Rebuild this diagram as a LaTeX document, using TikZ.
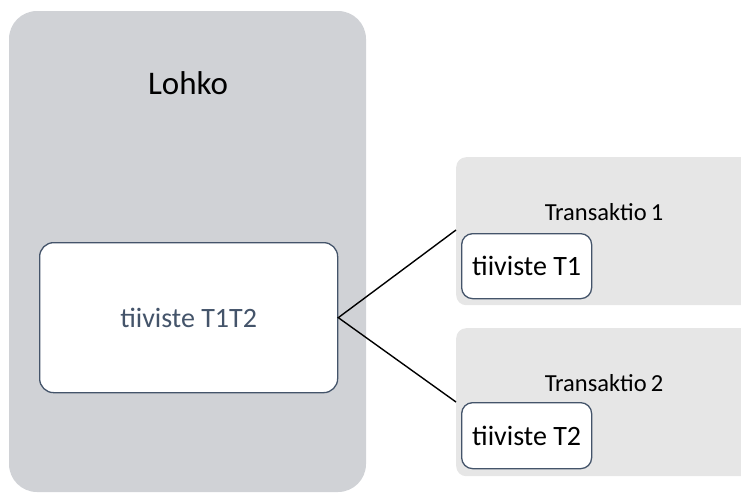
\documentclass[tikz,border=0pt]{standalone}
\usepackage{fontspec}
\setmainfont{Carlito}
\definecolor{blockgray}{RGB}{208,210,214}
\definecolor{txgray}{RGB}{230,230,230}
\definecolor{slate}{RGB}{68,84,106}
\begin{document}
\begin{tikzpicture}[x=1pt,y=-1pt,
  block/.style={fill=blockgray, rounded corners=28pt},
  txbox/.style={fill=txgray, rounded corners=10pt},
  hashbox/.style={draw=slate, line width=1.3pt, fill=white, rounded corners=14pt},
  smallhash/.style={draw=slate, line width=1.3pt, fill=white, rounded corners=11pt},
  link/.style={draw=black, line width=1.4pt}]
\useasboundingbox (0,0) rectangle (741,493);
\clip (0,0) rectangle (741,493);

% block
\path[block] (9,11) rectangle (366,492);
\node[font=\fontsize{33}{36}\selectfont] (lohko) at (188,83) {Lohko};
\node[hashbox, minimum width=298pt, minimum height=150pt, anchor=north west,
  text=slate, font=\fontsize{28}{32}\selectfont] (hash) at (39,242) {tiiviste T1T2};

% transactions
\node[txbox, minimum width=310pt, minimum height=148pt, anchor=north west] (tr1) at (456,157) {};
\node[txbox, minimum width=310pt, minimum height=148pt, anchor=north west] (tr2) at (456,328) {};
\node[font=\fontsize{24.5}{27}\selectfont] (tr1label) at (604,212) {Transaktio\,1};
\node[font=\fontsize{24.5}{27}\selectfont] (tr2label) at (604,383) {Transaktio\,2};
\node[smallhash, minimum width=130pt, minimum height=65pt, anchor=north west,
  font=\fontsize{28}{32}\selectfont, inner sep=0pt] (h1) at (461,233) {tiiviste T1};
\node[smallhash, minimum width=130pt, minimum height=66pt, anchor=north west,
  font=\fontsize{28}{32}\selectfont, inner sep=0pt] (h2) at (461,402) {tiiviste T2};

% connectors
\coordinate (in1) at (456,230);
\coordinate (in2) at (456,402);
\draw[link] (in1) -- (hash.east) -- (in2);
\end{tikzpicture}
\end{document}
